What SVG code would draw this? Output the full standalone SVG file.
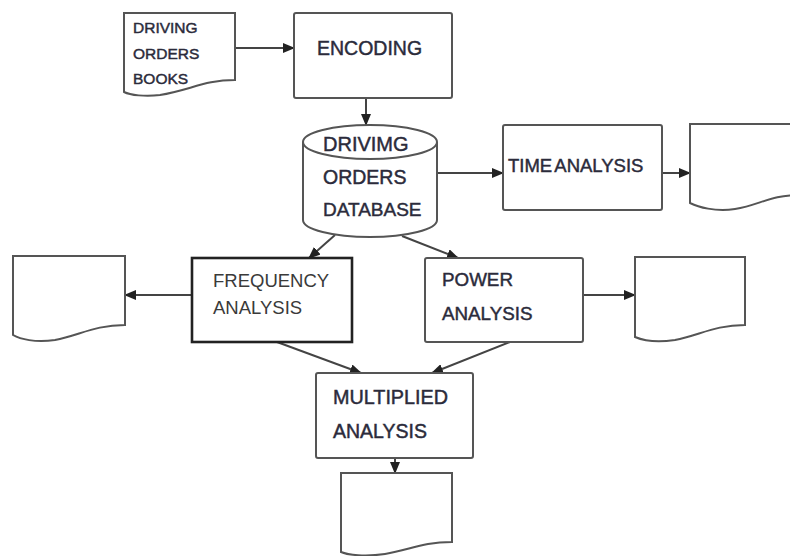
<svg xmlns="http://www.w3.org/2000/svg" width="790" height="556" viewBox="0 0 790 556">
<style>
.box{fill:#fff;stroke:#555;stroke-width:2}
.bold{fill:#fff;stroke:#222;stroke-width:2.6}
.t{font-family:"Liberation Sans",Arial,sans-serif;fill:#2b2b3b;stroke:#2b2b3b;stroke-width:0.45}
.g{font-family:"Liberation Sans",Arial,sans-serif;fill:#3a3a3a}
.c{stroke:#444;stroke-width:2;fill:none;marker-end:url(#ah)}
</style>
<defs>
<marker id="ah" markerUnits="userSpaceOnUse" markerWidth="12" markerHeight="10" refX="11" refY="5" orient="auto">
<path d="M0,0 L12,5 L0,10 Z" fill="#222"/>
</marker>
</defs>
<rect width="790" height="556" fill="#fff"/>
<g id="connectors">
<line class="c" x1="235" y1="48" x2="294" y2="48"/>
<line class="c" x1="366" y1="98" x2="366" y2="125"/>
<line class="c" x1="437" y1="173" x2="503" y2="173"/>
<line class="c" x1="662" y1="173" x2="690" y2="173"/>
<line class="c" x1="335" y1="235" x2="309" y2="258"/>
<line class="c" x1="402" y1="236" x2="458" y2="258"/>
<line class="c" x1="192" y1="295" x2="125" y2="295"/>
<line class="c" x1="583" y1="295" x2="635" y2="295"/>
<line class="c" x1="277" y1="342" x2="361" y2="373"/>
<line class="c" x1="510" y1="342" x2="432" y2="373"/>
<line class="c" x1="395" y1="458" x2="395" y2="473"/>
</g>
<g id="doc-books">
<path class="box" d="M124,13 H235 V80 C205,80 190,90 160,95 C145,97 130,95 124,92 Z"/>
<text class="t" font-size="15.5" x="133" y="33">DRIVING</text>
<text class="t" font-size="15.5" x="133" y="59">ORDERS</text>
<text class="t" font-size="15.5" x="133" y="84">BOOKS</text>
</g>
<g id="encoding">
<rect class="box" x="294" y="13" width="158" height="85" rx="2"/>
<text class="t" font-size="19.5" x="317" y="55">ENCODING</text>
</g>
<g id="database">
<path class="box" d="M303,142 V220 A67,17 0 0 0 437,220 V142"/>
<ellipse class="box" cx="370" cy="142" rx="67" ry="17"/>
<text class="t" font-size="20" x="323" y="151">DRIVIMG</text>
<text class="t" font-size="19.5" x="323" y="184">ORDERS</text>
<text class="t" font-size="19" x="323" y="216">DATABASE</text>
</g>
<g id="time-analysis">
<rect class="box" x="503" y="125" width="159" height="85" rx="2"/>
<text class="t" font-size="18.5" x="508" y="172" word-spacing="-2">TIME ANALYSIS</text>
</g>
<g id="doc-time">
<path class="box" d="M690,124 H800 V195 C770,195 760,205 735,209 C715,212 698,207 690,203 Z"/>
</g>
<g id="frequency">
<rect class="bold" x="192" y="258" width="160" height="84"/>
<text class="g" font-size="18.5" x="213" y="287">FREQUENCY</text>
<text class="g" font-size="18.5" x="213" y="314">ANALYSIS</text>
</g>
<g id="doc-freq">
<path class="box" d="M13,256 H125 V325 C95,325 80,335 55,340 C35,343 20,339 13,335 Z"/>
</g>
<g id="power">
<rect class="box" x="425" y="258" width="158" height="84" rx="2"/>
<text class="t" font-size="18.8" x="442" y="286">POWER</text>
<text class="t" font-size="18.8" x="442" y="320">ANALYSIS</text>
</g>
<g id="doc-power">
<path class="box" d="M635,257 H745 V325 C715,325 700,335 675,340 C655,343 642,340 635,337 Z"/>
</g>
<g id="multiplied">
<rect class="box" x="316" y="373" width="157" height="85" rx="2"/>
<text class="t" font-size="19.8" x="333" y="404">MULTIPLIED</text>
<text class="t" font-size="19.5" x="333" y="438">ANALYSIS</text>
</g>
<g id="doc-multi">
<path class="box" d="M341,473 H452 V542 C422,542 410,550 385,554 C365,557 348,555 341,552 Z"/>
</g>
</svg>
